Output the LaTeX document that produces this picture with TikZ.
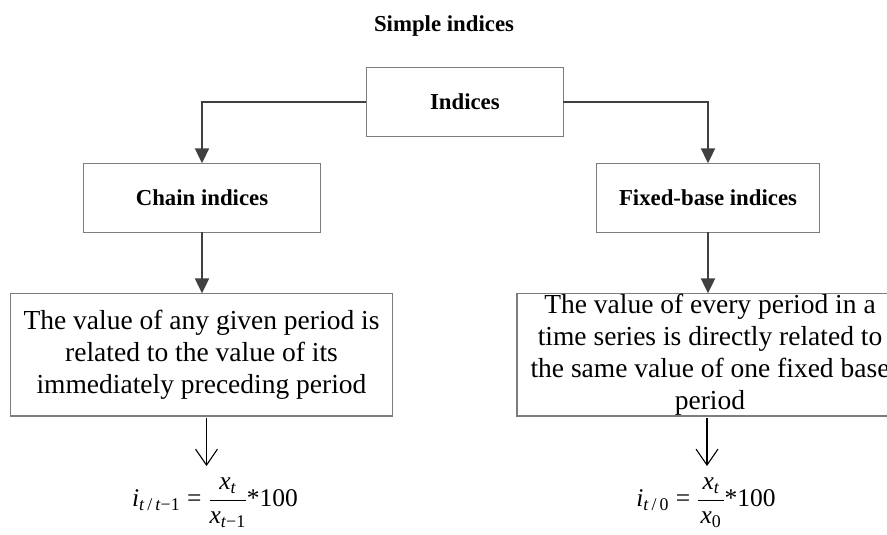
\documentclass[tikz,border=0pt]{standalone}
\usepackage{amsmath}
\usepackage{fontspec}
\setmainfont{Liberation Serif}
\usetikzlibrary{arrows.meta}
\definecolor{boxgray}{RGB}{125,125,125}
\definecolor{linkgray}{RGB}{64,64,64}
\begin{document}
\begin{tikzpicture}[x=1pt,y=-1pt,
  titlebox/.style={draw=boxgray,line width=1.2pt,rectangle,inner sep=0pt,outer sep=0pt,
    minimum height=69pt,font=\fontsize{22.8}{26}\selectfont\bfseries},
  descbox/.style={draw=boxgray,line width=1.2pt,rectangle,inner sep=0pt,outer sep=0pt,
    minimum height=122.7pt},
  desctext/.style={inner sep=0pt,align=center,font=\fontsize{27.5}{32.2}\selectfont},
  formula/.style={inner sep=0pt,font=\fontsize{25.5}{29}\selectfont},
  link/.style={draw=linkgray,line width=2pt,-{Triangle[length=15pt,width=14pt]}},
  thinlink/.style={draw=black,line width=1.1pt,-{Straight Barb[length=16pt,width=22pt,line width=1.1pt]}}
]
\useasboundingbox (0,0) rectangle (887,535);
\clip (0,0) rectangle (887,535);

\node[inner sep=0pt,font=\fontsize{22.8}{26}\selectfont\bfseries] (title) at (444,26) {Simple indices};

\node[titlebox,minimum width=197pt] (ind) at (464.9,102.2) {Indices};
\node[titlebox,minimum width=237.4pt] (chain) at (202,197.8) {Chain indices};
\node[titlebox,minimum width=222.6pt] (fixed) at (708,197.8) {Fixed-base indices};

\node[descbox,minimum width=381.6pt] (ldesc) at (201.5,354.7) {};
\node[desctext] (ltext) at (ldesc.center) {The value of any given period is\\related to the value of its\\immediately preceding period};

\node[descbox,minimum width=386pt] (rdesc) at (710,354.7) {};
\node[desctext] (rtext) at (rdesc.center) {The value of every period in a\\time series is directly related to\\the same value of one fixed base\\period};

\node[formula] (lform) at (215,503) {$\textit{i}_{\text{\textit{t}\,/\,\textit{t}−1}}\mathrel{\text{=}}\dfrac{\textit{x}_{\textit{t}}}{\textit{x}_{\text{\textit{t}−1}}}\text{*100}$};
\node[formula] (rform) at (706,503) {$\textit{i}_{\text{\textit{t}\,/\,0}}\mathrel{\text{=}}\dfrac{\,\textit{x}_{\textit{t}}\,}{\textit{x}_{\text{0}}}\text{*100}$};

\draw[link] (ind.west) -| (chain.north);
\draw[link] (ind.east) -| (fixed.north);
\draw[link] (chain.south) -- (chain.south |- ldesc.north);
\draw[link] (fixed.south) -- (fixed.south |- rdesc.north);

\coordinate (lstart) at ([xshift=5pt,yshift=-2pt]ldesc.south);
\coordinate (rstart) at ([xshift=-3pt,yshift=-2pt]rdesc.south);
\draw[thinlink] (lstart) -- ++(0,48);
\draw[thinlink] (rstart) -- ++(0,48);
\end{tikzpicture}
\end{document}
